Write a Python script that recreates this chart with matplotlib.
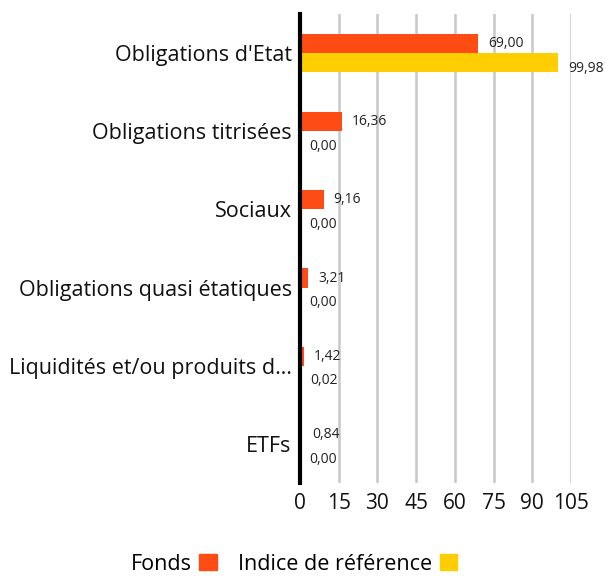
import matplotlib
matplotlib.use("Agg")
import matplotlib.pyplot as plt
from matplotlib.patches import Patch

categories = ["Obligations d'Etat", "Obligations titrisées", "Sociaux",
              "Obligations quasi étatiques", "Liquidités et/ou produits d…", "ETFs"]
fonds = [69.00, 16.36, 9.16, 3.21, 1.42, 0.84]
indice = [99.98, 0.00, 0.00, 0.00, 0.02, 0.00]
fonds_labels = ["69,00", "16,36", "9,16", "3,21", "1,42", "0,84"]
indice_labels = ["99,98", "0,00", "0,00", "0,00", "0,02", "0,00"]
xticks = [0, 15, 30, 45, 60, 75, 90, 105]

ORANGE = "#FF4C15"
YELLOW = "#FFCE00"
FONT = "Open Sans"

fig = plt.figure(figsize=(6.06, 5.76), dpi=100)
ax = fig.add_axes([300/606, 1-483/576, 271/606, 469/576])

n = len(categories)
ys = list(range(n))
h = 0.245
off = 0.122
ax.barh([y - off for y in ys], fonds, height=h, color=ORANGE, zorder=3)
ax.barh([y + off for y in ys], indice, height=h, color=YELLOW, zorder=3)

for y, v, lab in zip(ys, fonds, fonds_labels):
    ax.annotate(lab, (v, y - off), xytext=(7, 0), textcoords="offset points",
                va="center", ha="left", fontsize=10, family=FONT, color="#222222",
                annotation_clip=False)
for y, v, lab in zip(ys, indice, indice_labels):
    ax.annotate(lab, (v, y + off), xytext=(7, -4), textcoords="offset points",
                va="center", ha="left", fontsize=10, family=FONT, color="#222222",
                annotation_clip=False)

ax.set_ylim(n - 0.5, -0.5)
ax.set_xlim(0, 105)
ax.set_yticks(ys)
ax.set_yticklabels(categories, fontsize=15.5, family=FONT, color="#111111")
ax.set_xticks(xticks)
ax.set_xticklabels([str(t) for t in xticks], fontsize=15, family=FONT, color="#111111")
ax.tick_params(axis="both", length=0)
ax.tick_params(axis="y", pad=6)
ax.tick_params(axis="x", pad=7)

for s in ["top", "right", "bottom"]:
    ax.spines[s].set_visible(False)
ax.spines["left"].set_linewidth(3)
ax.spines["left"].set_color("black")
ax.spines["left"].set_zorder(5)

ax.grid(axis="x", color="#c8c8c8", linewidth=1.8, zorder=0)
ax.grid(axis="y", visible=False)
ax.set_axisbelow(True)

handles = [Patch(color=ORANGE, label="Fonds"), Patch(color=YELLOW, label="Indice de référence")]
fig.legend(handles=handles, loc="center", bbox_to_anchor=(294/606, 1-564/576), ncol=2,
           frameon=False, markerfirst=False, handlelength=0.8, handleheight=0.8,
           handletextpad=0.35, columnspacing=1.0,
           prop={"family": FONT, "size": 15.5})

fig.savefig("out.png", dpi=100)
